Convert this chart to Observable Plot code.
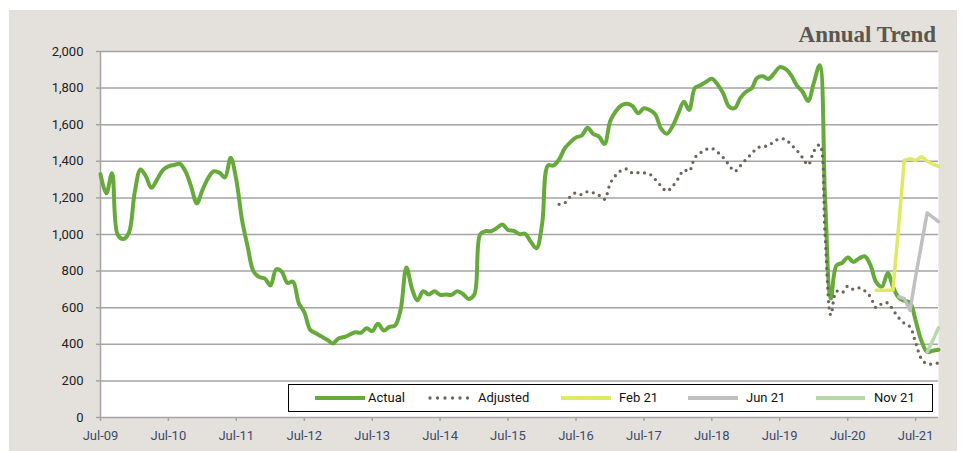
<!DOCTYPE html>
<html><head><meta charset="utf-8">
<script src="https://cdn.jsdelivr.net/npm/d3@7"></script>
<script src="https://cdn.jsdelivr.net/npm/@observablehq/plot@0.6"></script>
<style>
body{margin:0;background:#fff;}
#wrap{position:absolute;left:9px;top:10px;width:948px;height:441px;background:#e4e1dc;overflow:hidden;}
#title{position:absolute;right:21px;top:12px;font-family:"Liberation Serif",serif;font-weight:bold;font-size:23px;color:#5b5650;line-height:normal;}
#legend{position:absolute;left:279px;top:374px;width:645px;height:28px;background:#fff;border:1px solid #000;box-sizing:border-box;font-family:Roboto,sans-serif;font-size:13px;color:#111;}
.sw{position:absolute;top:0;height:26px;}
.lt{position:absolute;top:0;height:26px;line-height:26px;}
#chart svg{display:block;}
</style>
</head><body>
<div id="wrap">
  <div id="chart"></div>
  <div id="title"></div>
  <div id="legend"></div>
</div>
<script>
// ---- data ----
const startMonth = "2009-07-01";
const endMonth = "2021-11-01";
const titleText = "Annual Trend";
const yTicks = [0,200,400,600,800,1000,1200,1400,1600,1800,2000];
const xTickYears = [2009,2010,2011,2012,2013,2014,2015,2016,2017,2018,2019,2020,2021];

// Actual, monthly from Jul-09
const actualValues = [
 1330,1225,1335,1000,975,1010,1230,1355,1320,1255,
 1300,1352,1372,1380,1386,1345,1260,1170,1245,1310,
 1345,1338,1312,1420,1300,1080,930,800,768,760,
 722,810,798,735,742,625,575,480,460,442,
 425,405,432,440,452,466,463,488,472,512,
 475,495,503,590,820,700,640,690,672,690,
 670,672,670,690,675,648,672,1000,1018,1018,
 1035,1055,1025,1020,1002,1004,960,925,1060,1377,
 1377,1410,1470,1505,1530,1541,1583,1550,1535,1495,
 1620,1675,1705,1714,1701,1663,1690,1680,1655,1578,
 1550,1590,1660,1725,1680,1800,1815,1835,1851,1820,
 1770,1700,1690,1745,1780,1800,1855,1865,1850,1880,
 1915,1905,1870,1815,1780,1730,1830,1925,1200,650,
 830,845,875,850,870,880,830,740,715,790,
 715,655,638,628,530,420,358,365,370
];
// Adjusted, monthly from Apr-16
const adjustedStart = "2016-04-01";
const adjustedValues = [
 1165,1172,1208,1228,1218,1234,1228,1215,1192,1280,
 1325,1350,1358,1335,1338,1337,1330,1300,1265,1237,
 1262,1305,1352,1345,1420,1446,1465,1470,1450,1420,
 1381,1345,1375,1410,1442,1472,1482,1484,1510,1522,
 1520,1490,1460,1420,1380,1455,1490,1000,560,690,
 682,718,700,708,692,658,600,622,626,588,
 545,515,495,410,321,292,293,298
];
// Forecasts
const feb21Start = "2020-12-01";
const feb21Values = [695,695,695,695,1050,1405,1415,1405,1425,1400,1385,1373];
const jun21Start = "2021-04-01";
const jun21Values = [660,650,585,770,945,1118,1095,1070];
const nov21Start = "2021-09-01";
const nov21Values = [358,420,490];

const seriesNames = ["Actual","Adjusted","Feb 21","Jun 21","Nov 21"];
const seriesColors = ["#65aa3b","#6f635a","#dfe962","#c0c0c0","#b9d7ae"];

// ---- build ----
const toRows = (start, vals) => {
  const s = new Date(start + "T00:00:00Z");
  return vals.map((v, i) => ({date: d3.utcMonth.offset(s, i), value: v}));
};
const actual = toRows(startMonth, actualValues);
const adjusted = toRows(adjustedStart, adjustedValues);
const feb21 = toRows(feb21Start, feb21Values);
const jun21 = toRows(jun21Start, jun21Values);
const nov21 = toRows(nov21Start, nov21Values);
const x0 = new Date(startMonth + "T00:00:00Z");
const x1 = new Date(endMonth + "T00:00:00Z");
const xTicks = xTickYears.map(y => new Date(Date.UTC(y, 6, 1)));
const gridColor = "#a4a4a4";

const chart = Plot.plot({
  width: 948, height: 441,
  marginLeft: 91, marginTop: 41, marginRight: 19, marginBottom: 34,
  style: {background: "transparent", fontFamily: "Roboto, sans-serif", fontSize: "13px", overflow: "visible"},
  x: {type: "utc", domain: [x0, x1]},
  y: {domain: [0, 2000]},
  marks: [
    Plot.frame({fill: "#fff", stroke: null}),
    Plot.ruleY(yTicks, {stroke: gridColor, strokeWidth: 1.5}),
    Plot.ruleX([x0], {stroke: gridColor, strokeWidth: 1.5}),
    Plot.axisY({ticks: yTicks, tickFormat: d3.format(","), tickSize: 4, tickPadding: 13, stroke: gridColor, strokeWidth: 1.5, fill: "#222", label: null}),
    Plot.axisX({ticks: xTicks, tickFormat: d3.utcFormat("%b-%y"), tickSize: 4, tickPadding: 9, stroke: gridColor, strokeWidth: 1.5, fill: "#3c4a6e", label: null}),
    Plot.lineY(actual, {x: "date", y: "value", stroke: seriesColors[0], strokeWidth: 4, curve: "catmull-rom"}),
    Plot.lineY(adjusted, {x: "date", y: "value", stroke: seriesColors[1], strokeWidth: 3.3, strokeDasharray: "0 6.6", strokeLinecap: "round", curve: "catmull-rom"}),
    Plot.lineY(feb21, {x: "date", y: "value", stroke: seriesColors[2], strokeWidth: 3.5}),
    Plot.lineY(jun21, {x: "date", y: "value", stroke: seriesColors[3], strokeWidth: 3.5}),
    Plot.lineY(nov21, {x: "date", y: "value", stroke: seriesColors[4], strokeWidth: 3.5})
  ]
});
document.getElementById("chart").appendChild(chart);
document.getElementById("title").textContent = titleText;

// legend
const legendPos = [[26,76,79],[141,186,189],[272,322,330],[399,449,457],[527,576,585]];
const lg = document.getElementById("legend");
seriesNames.forEach((name, i) => {
  const [a, b, t] = legendPos[i];
  const dotted = i === 1;
  const sw = document.createElementNS("http://www.w3.org/2000/svg", "svg");
  sw.setAttribute("class", "sw");
  sw.setAttribute("width", b - a + 4);
  sw.setAttribute("height", 26);
  sw.style.left = (a - 2) + "px";
  const ln = document.createElementNS("http://www.w3.org/2000/svg", "line");
  ln.setAttribute("x1", 2); ln.setAttribute("x2", b - a + 2);
  ln.setAttribute("y1", 13); ln.setAttribute("y2", 13);
  ln.setAttribute("stroke", seriesColors[i]);
  ln.setAttribute("stroke-width", dotted ? 3.3 : 4);
  if (dotted) { ln.setAttribute("stroke-dasharray", "0 7.5"); ln.setAttribute("stroke-linecap", "round"); }
  sw.appendChild(ln);
  lg.appendChild(sw);
  const tx = document.createElement("div");
  tx.className = "lt"; tx.style.left = t + "px"; tx.textContent = name;
  lg.appendChild(tx);
});
</script>
</body></html>
